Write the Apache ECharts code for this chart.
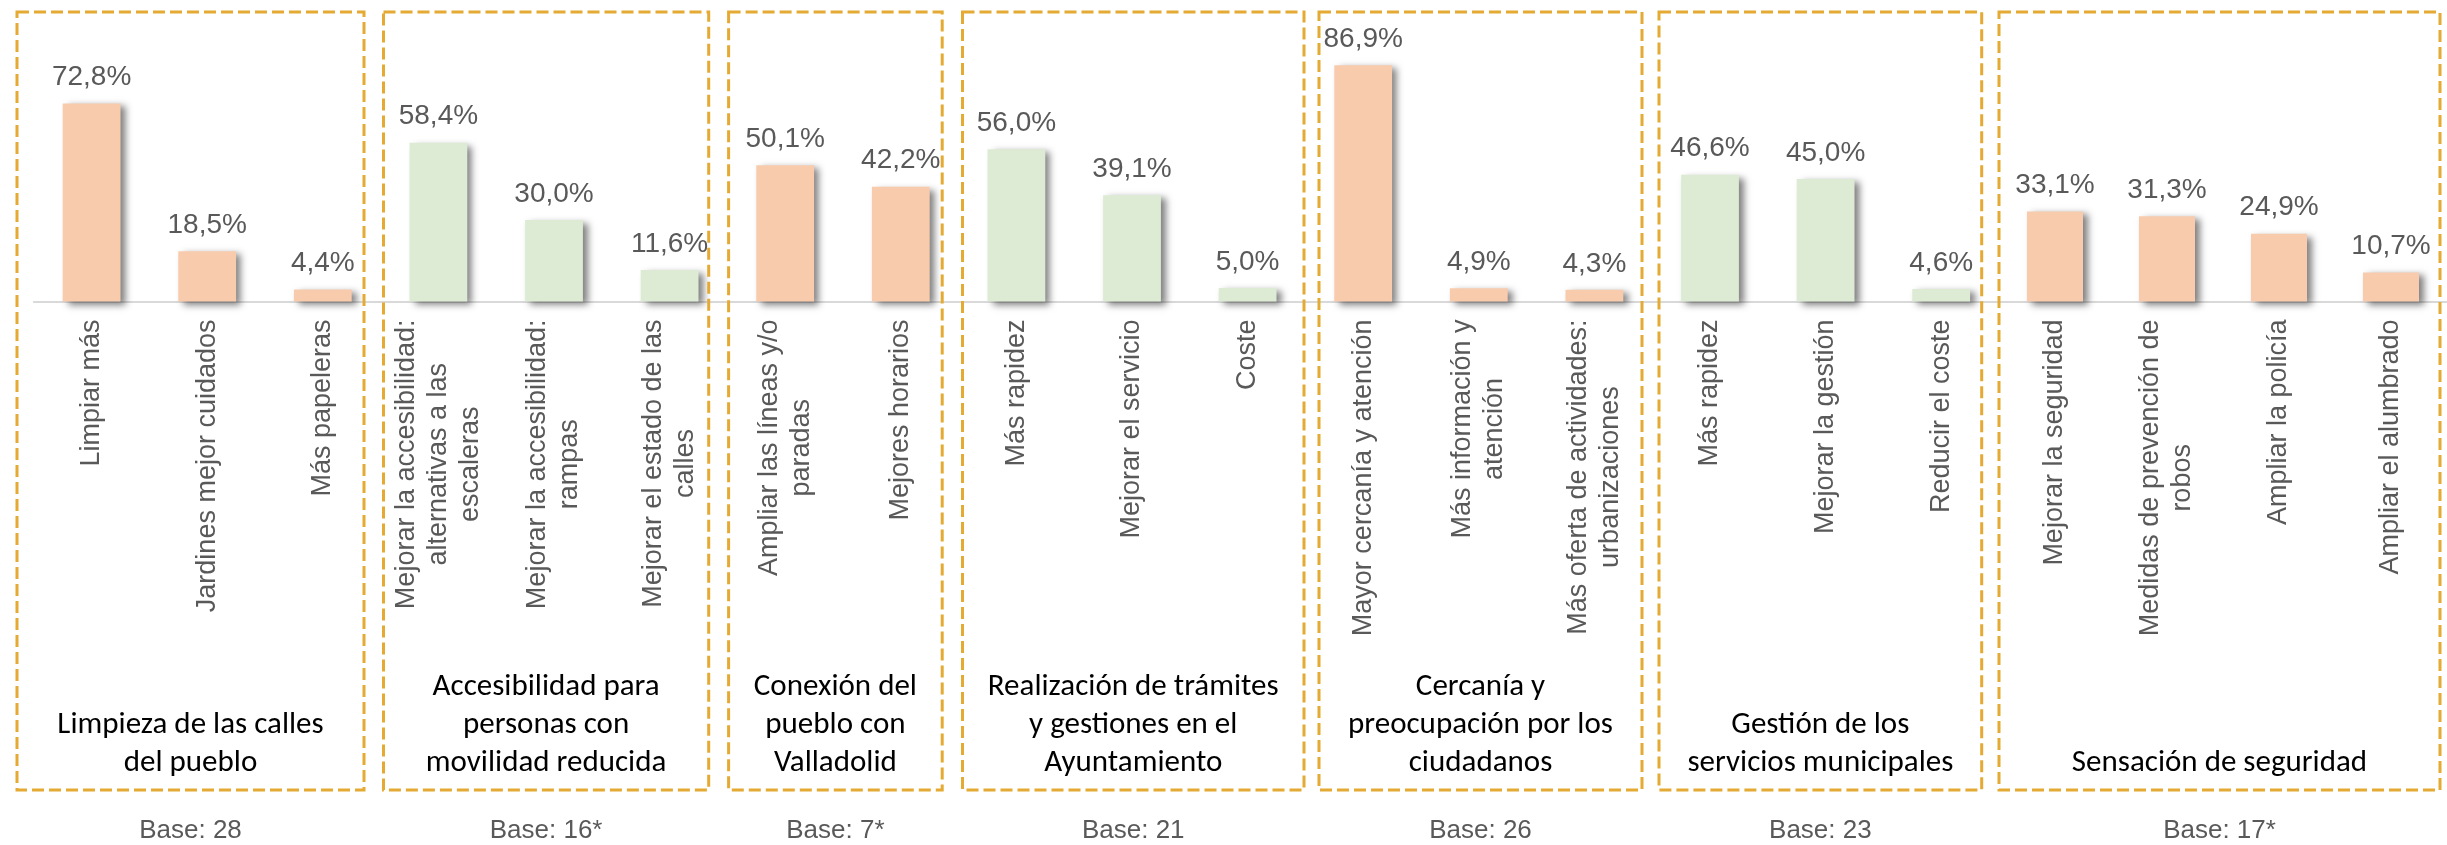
<!DOCTYPE html>
<html>
<head>
<meta charset="utf-8">
<script src="https://cdn.jsdelivr.net/npm/echarts@6/dist/echarts.min.js"></script>
<style>
  html, body { margin: 0; padding: 0; background: #fff; }
  #chart { width: 2447px; height: 845px; }
</style>
</head>
<body>
<div id="chart"></div>
<script>
// data
const groupTitles = [
  "Limpieza de las calles\ndel pueblo",
  "Accesibilidad para\npersonas con\nmovilidad reducida",
  "Conexión del\npueblo con\nValladolid",
  "Realización de trámites\ny gestiones en el\nAyuntamiento",
  "Cercanía y\npreocupación por los\nciudadanos",
  "Gestión de los\nservicios municipales",
  "Sensación de seguridad",
];
const bases = ["Base: 28", "Base: 16*", "Base: 7*", "Base: 21", "Base: 26", "Base: 23", "Base: 17*"];

const catLimpieza = ["Limpiar más", "Jardines mejor cuidados", "Más papeleras"];
const catAccesibilidad = [
  "Mejorar la accesibilidad:\nalternativas a las\nescaleras",
  "Mejorar la accesibilidad:\nrampas",
  "Mejorar el estado de las\ncalles",
];
const catConexion = ["Ampliar las líneas y/o\nparadas", "Mejores horarios"];
const catTramites = ["Más rapidez", "Mejorar el servicio", "Coste"];
const catCercania = [
  "Mayor cercanía y atención",
  "Más información y\natención",
  "Más oferta de actividades:\nurbanizaciones",
];
const catGestion = ["Más rapidez", "Mejorar la gestión", "Reducir el coste"];
const catSeguridad = [
  "Mejorar la seguridad",
  "Medidas de prevención de\nrobos",
  "Ampliar la policía",
  "Ampliar el alumbrado",
];

const valLimpieza = [72.8, 18.5, 4.4];
const valAccesibilidad = [58.4, 30.0, 11.6];
const valConexion = [50.1, 42.2];
const valTramites = [56.0, 39.1, 5.0];
const valCercania = [86.9, 4.9, 4.3];
const valGestion = [46.6, 45.0, 4.6];
const valSeguridad = [33.1, 31.3, 24.9, 10.7];

const categories = [catLimpieza, catAccesibilidad, catConexion, catTramites, catCercania, catGestion, catSeguridad];
const values = [valLimpieza, valAccesibilidad, valConexion, valTramites, valCercania, valGestion, valSeguridad];

// layout
const ORANGE = "#F8CBAD";
const GREEN = "#DDEBD5";
const groupColors = [ORANGE, GREEN, ORANGE, GREEN, ORANGE, GREEN, ORANGE];
const catWidth = 115.6;
const axisLeft = 33.8;
const boxLeft = [17, 383.5, 728.6, 962.5, 1319, 1659, 1999];
const boxRight = [364, 708.7, 942.2, 1304, 1642, 1981.7, 2440];
const boxTop = 12;
const boxBottom = 790;

const grids = [];
const xAxes = [];
const yAxes = [];
const series = [];
const titles = [];
const graphics = [];

let start = 0;
categories.forEach((cats, i) => {
  grids.push({
    left: axisLeft + start * catWidth,
    width: cats.length * catWidth,
    top: 29.5,
    height: 272,
  });
  start += cats.length;

  xAxes.push({
    type: "category",
    gridIndex: i,
    data: cats,
    axisLine: { lineStyle: { color: "#D9D9D9", width: 2 } },
    axisTick: { length: 8, lineStyle: { color: "#D9D9D9", width: 2 } },
    axisLabel: {
      interval: 0,
      rotate: 90,
      margin: 18,
      formatter: (v) => v.split("\n").map((l) => "{c|" + l + "}").join("\n"),
      rich: {
        c: {
          fontFamily: "Arial, 'Liberation Sans'",
          fontSize: 27,
          lineHeight: 32,
          color: "#595959",
          align: "center",
        },
      },
    },
  });
  yAxes.push({ type: "value", gridIndex: i, min: 0, max: 100, show: false });

  series.push({
    type: "bar",
    xAxisIndex: i,
    yAxisIndex: i,
    data: values[i],
    barWidth: "50%",
    itemStyle: {
      color: groupColors[i],
      shadowColor: "rgba(0, 0, 0, 0.5)",
      shadowBlur: 7,
      shadowOffsetX: 5,
      shadowOffsetY: 3,
    },
    label: {
      show: true,
      position: "top",
      distance: 12,
      fontFamily: "Arial, 'Liberation Sans'",
      fontSize: 28,
      color: "#595959",
      formatter: (p) => p.value.toFixed(1).replace(".", ",") + "%",
    },
  });

  const cx = (boxLeft[i] + boxRight[i]) / 2;
  titles.push({
    text: groupTitles[i],
    left: cx,
    bottom: 63,
    textAlign: "center",
    padding: 0,
    textStyle: {
      fontFamily: "Carlito, Lato",
      fontWeight: "normal",
      fontSize: 31,
      lineHeight: 38,
      color: "#000",
    },
  });
  titles.push({
    text: bases[i],
    left: cx,
    top: 816,
    textAlign: "center",
    padding: 0,
    textStyle: {
      fontFamily: "Arial, 'Liberation Sans'",
      fontWeight: "normal",
      fontSize: 26,
      lineHeight: 30,
      color: "#595959",
    },
  });

  graphics.push({
    type: "rect",
    shape: { x: boxLeft[i], y: boxTop, width: boxRight[i] - boxLeft[i], height: boxBottom - boxTop },
    style: { fill: "none", stroke: "#E4AA33", lineWidth: 3, lineDash: [12, 5] },
    z: 10,
  });
});

const chart = echarts.init(document.getElementById("chart"));
chart.setOption({
  backgroundColor: "#fff",
  animation: false,
  title: titles,
  grid: grids,
  xAxis: xAxes,
  yAxis: yAxes,
  series: series,
  graphic: graphics,
});
</script>
</body>
</html>
